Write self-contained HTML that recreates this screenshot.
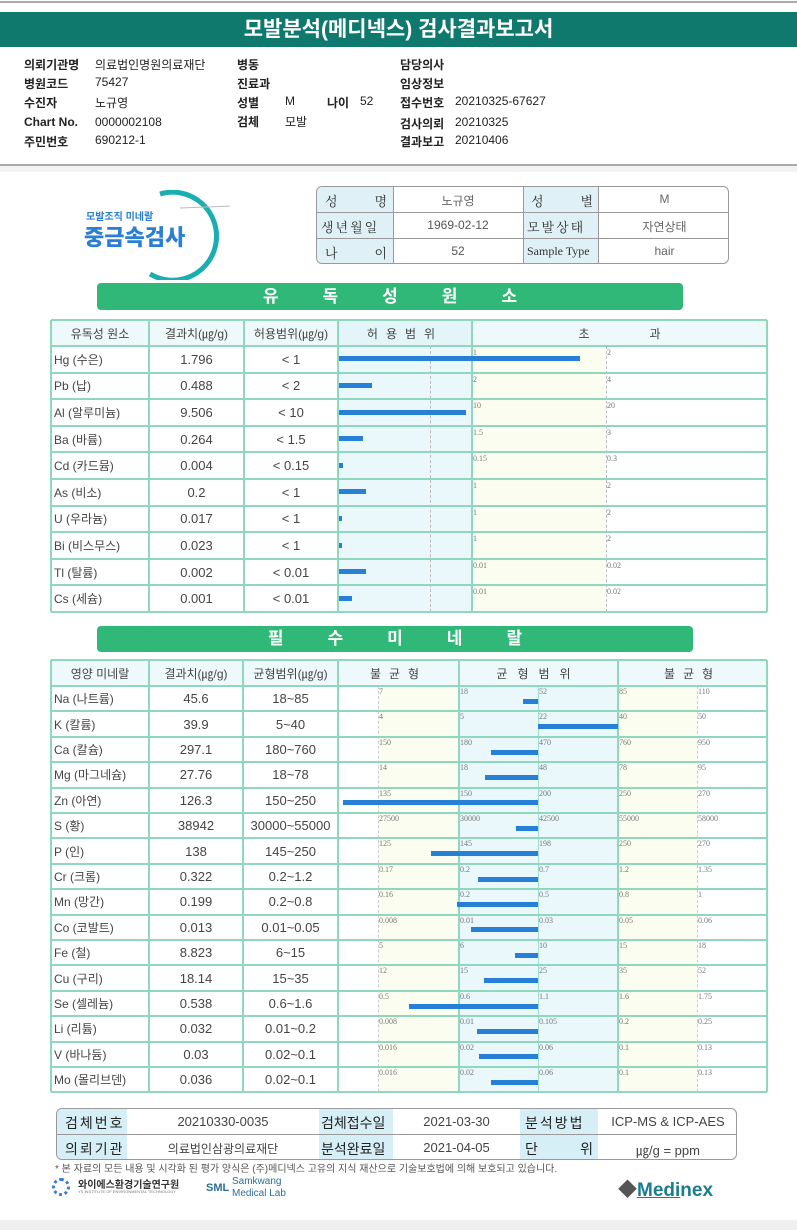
<!DOCTYPE html>
<html><head><meta charset="utf-8">
<style>
*{box-sizing:border-box;margin:0;padding:0}
body{width:797px;height:1230px;position:relative;background:#fff;font-family:"Liberation Sans","Noto Sans CJK KR",sans-serif;color:#333;overflow:hidden}
.a{position:absolute;white-space:nowrap}
.b{font-weight:bold;color:#111}
.i{font-size:12px;color:#222}
.cell{position:absolute;display:flex;align-items:center;justify-content:center;font-size:13px;color:#444;white-space:nowrap}
.tk{position:absolute;font-family:"Liberation Serif",serif;font-size:8px;color:#777}
</style></head><body>
<div class="a" style="left:0;top:1px;width:797px;height:2px;background:#aaa"></div>
<div class="a" style="left:0;top:12px;width:797px;height:35px;background:#10796d;color:#fff;font-size:21px;text-align:center;line-height:35px;font-weight:bold">모발분석(메디넥스) 검사결과보고서</div>

<div>
<div class="a b i" style="left:24px;top:56px">의뢰기관명</div><div class="a i" style="left:95px;top:56px">의료법인명원의료재단</div>
<div class="a b i" style="left:24px;top:75px">병원코드</div><div class="a i" style="left:95px;top:75px">75427</div>
<div class="a b i" style="left:24px;top:94px">수진자</div><div class="a i" style="left:95px;top:94px">노규영</div>
<div class="a b i" style="left:24px;top:115px">Chart No.</div><div class="a i" style="left:95px;top:115px">0000002108</div>
<div class="a b i" style="left:24px;top:133px">주민번호</div><div class="a i" style="left:95px;top:133px">690212-1</div>
<div class="a b i" style="left:237px;top:56px">병동</div>
<div class="a b i" style="left:237px;top:75px">진료과</div>
<div class="a b i" style="left:237px;top:94px">성별</div><div class="a i" style="left:285px;top:94px">M</div>
<div class="a b i" style="left:327px;top:94px">나이</div><div class="a i" style="left:360px;top:94px">52</div>
<div class="a b i" style="left:237px;top:113px">검체</div><div class="a i" style="left:285px;top:113px">모발</div>
<div class="a b i" style="left:400px;top:56px">담당의사</div>
<div class="a b i" style="left:400px;top:75px">임상정보</div>
<div class="a b i" style="left:400px;top:94px">접수번호</div><div class="a i" style="left:455px;top:94px">20210325-67627</div>
<div class="a b i" style="left:400px;top:115px">검사의뢰</div><div class="a i" style="left:455px;top:115px">20210325</div>
<div class="a b i" style="left:400px;top:133px">결과보고</div><div class="a i" style="left:455px;top:133px">20210406</div>
</div>
<div class="a" style="left:0;top:164px;width:797px;height:2px;background:#aaa"></div>
<div class="a" style="left:0;top:166px;width:797px;height:6px;background:#f2f2f2"></div>

<div class="a" style="left:80px;top:190px;width:150px;height:90px">
<svg width="150" height="90" style="position:absolute;left:0;top:0"><path d="M80 4 A44 44 0 1 1 70 84" fill="none" stroke="#1aaeb0" stroke-width="5"/><path d="M100 18 L180 15" stroke="#bbb" stroke-width="1"/></svg>
<div class="a" style="left:6px;top:18px;font-size:10px;color:#2a7fd4;font-weight:bold">모발조직 미네랄</div>
<div class="a" style="left:4px;top:30px;font-size:22px;color:#2a7fd4;font-weight:900">중금속검사</div>
</div>

<div class="a" style="left:316px;top:186px;width:413px;height:78px;border:1px solid #999;border-radius:6px;overflow:hidden;font-size:13px">
<div class="a" style="left:0;top:0;width:76px;height:78px;background:#dff1f6"></div>
<div class="a" style="left:206px;top:0;width:75px;height:78px;background:#dff1f6"></div>
<div class="a" style="left:0;top:25px;width:413px;height:1px;background:#999"></div>
<div class="a" style="left:0;top:51px;width:413px;height:1px;background:#999"></div>
<div class="a" style="left:76px;top:0;width:1px;height:78px;background:#999"></div>
<div class="a" style="left:206px;top:0;width:1px;height:78px;background:#999"></div>
<div class="a" style="left:281px;top:0;width:1px;height:78px;background:#999"></div>
<div class="a" style="left:8px;top:4px;width:62px;font-family:'Liberation Serif','Noto Serif CJK SC',serif;display:flex;justify-content:space-between"><span>성</span><span>명</span></div>
<div class="a" style="left:4px;top:30px;font-family:'Liberation Serif','Noto Serif CJK SC',serif;letter-spacing:2px">생년월일</div>
<div class="a" style="left:8px;top:56px;width:62px;font-family:'Liberation Serif','Noto Serif CJK SC',serif;display:flex;justify-content:space-between"><span>나</span><span>이</span></div>
<div class="a" style="left:214px;top:4px;width:62px;font-family:'Liberation Serif','Noto Serif CJK SC',serif;display:flex;justify-content:space-between"><span>성</span><span>별</span></div>
<div class="a" style="left:210px;top:30px;font-family:'Liberation Serif','Noto Serif CJK SC',serif;letter-spacing:2px">모발상태</div>
<div class="a" style="left:210px;top:57px;font-family:'Liberation Serif',serif;font-size:12px">Sample Type</div>
<div class="a" style="left:76px;top:5px;width:130px;text-align:center;font-size:12px;color:#666">노규영</div>
<div class="a" style="left:76px;top:31px;width:130px;text-align:center;font-size:12px;color:#555">1969-02-12</div>
<div class="a" style="left:76px;top:57px;width:130px;text-align:center;font-size:12px;color:#555">52</div>
<div class="a" style="left:282px;top:5px;width:131px;text-align:center;font-size:12px;color:#666">M</div>
<div class="a" style="left:282px;top:31px;width:131px;text-align:center;font-size:12px;color:#666">자연상태</div>
<div class="a" style="left:282px;top:57px;width:131px;text-align:center;font-size:12px;color:#666">hair</div>
</div>

<div class="a" style="left:97px;top:283px;width:586px;height:27px;background:#2fb877;border-radius:4px;color:#fff;font-size:17px;font-weight:bold;text-align:center;line-height:27px;letter-spacing:44px;text-indent:44px">유독성원소</div>
<div id="t1"></div>

<div class="a" style="left:97px;top:626px;width:596px;height:26px;background:#2fb877;border-radius:4px;color:#fff;font-size:17px;font-weight:bold;text-align:center;line-height:26px;letter-spacing:44px;text-indent:44px">필수미네랄</div>
<div id="t2"></div>

<div class="a" style="left:56px;top:1108px;width:681px;height:52px;border:1px solid #999;border-radius:6px;overflow:hidden;font-size:13px;color:#444">
<div class="a" style="left:0;top:0;width:70px;height:52px;background:#d6eff6"></div>
<div class="a" style="left:262px;top:0;width:74px;height:52px;background:#d6eff6"></div>
<div class="a" style="left:463px;top:0;width:78px;height:52px;background:#d6eff6"></div>
<div class="a" style="left:0;top:25px;width:681px;height:1px;background:#999"></div>
<div class="a" style="left:8px;top:4px;font-size:14px;letter-spacing:2px;color:#222">검체번호</div>
<div class="a" style="left:8px;top:30px;font-size:14px;letter-spacing:2px;color:#222">의뢰기관</div>
<div class="a" style="left:70px;top:5px;width:192px;text-align:center">20210330-0035</div>
<div class="a" style="left:70px;top:31px;width:192px;text-align:center;font-size:12px">의료법인삼광의료재단</div>
<div class="a" style="left:264px;top:4px;font-size:14px;color:#222">검체접수일</div>
<div class="a" style="left:264px;top:30px;font-size:14px;color:#222">분석완료일</div>
<div class="a" style="left:336px;top:5px;width:127px;text-align:center">2021-03-30</div>
<div class="a" style="left:336px;top:31px;width:127px;text-align:center">2021-04-05</div>
<div class="a" style="left:468px;top:4px;font-size:14px;letter-spacing:2px;color:#222">분석방법</div>
<div class="a" style="left:468px;top:30px;width:68px;font-size:14px;color:#222;display:flex;justify-content:space-between"><span>단</span><span>위</span></div>
<div class="a" style="left:541px;top:5px;width:140px;text-align:center">ICP-MS &amp; ICP-AES</div>
<div class="a" style="left:541px;top:31px;width:140px;text-align:center">㎍/g = ppm</div>
</div>
<div class="a" style="left:55px;top:1160px;font-size:10px;color:#555">* 본 자료의 모든 내용 및 시각화 된 평가 양식은 (주)메디넥스 고유의 지식 재산으로 기술보호법에 의해 보호되고 있습니다.</div>
<div class="a" style="left:52px;top:1176px">
<div class="a" style="left:0;top:2px;width:18px;height:18px;border-radius:50%;border:3px dotted #3a7bd5"></div>
<div class="a" style="left:26px;top:0;font-size:10px;font-weight:bold;color:#333">와이에스환경기술연구원</div>
<div class="a" style="left:26px;top:13px;font-size:4px;color:#777">YS INSTITUTE OF ENVIRONMENTAL TECHNOLOGY</div></div>
<div class="a" style="left:206px;top:1176px">
<div class="a" style="left:0;top:6px;font-size:11px;font-weight:bold;color:#2a6f9b">SML</div>
<div class="a" style="left:26px;top:0;font-size:10px;color:#2a6f9b;line-height:12px">Samkwang<br>Medical Lab</div></div>
<div class="a" style="left:618px;top:1175px;font-size:19px;font-weight:bold;color:#1b7d8c"><span style="color:#555">◆</span><span style="text-decoration:underline">Medi</span>nex</div>
<div class="a" style="left:0;top:1220px;width:797px;height:10px;background:#efefef"></div>

<script>
// ---- toxic elements data ----
const toxNames=["Hg (수은)","Pb (납)","Al (알루미늄)","Ba (바륨)","Cd (카드뮴)","As (비소)","U (우라늄)","Bi (비스무스)","Tl (탈륨)","Cs (세슘)"];
const toxValues=[1.796,0.488,9.506,0.264,0.004,0.2,0.017,0.023,0.002,0.001];
const toxLabels=["1.796","0.488","9.506","0.264","0.004","0.2","0.017","0.023","0.002","0.001"];
const toxLimits=[1,2,10,1.5,0.15,1,1,1,0.01,0.01];
const toxRangeText=["< 1","< 2","< 10","< 1.5","< 0.15","< 1","< 1","< 1","< 0.01","< 0.01"];
const toxTick1=["1","2","10","1.5","0.15","1","1","1","0.01","0.01"];
const toxTick2=["2","4","20","3","0.3","2","2","2","0.02","0.02"];
// ---- mineral data ----
const minNames=["Na (나트륨)","K (칼륨)","Ca (칼슘)","Mg (마그네슘)","Zn (아연)","S (황)","P (인)","Cr (크롬)","Mn (망간)","Co (코발트)","Fe (철)","Cu (구리)","Se (셀레늄)","Li (리튬)","V (바나듐)","Mo (몰리브덴)"];
const minValues=[45.6,39.9,297.1,27.76,126.3,38942,138,0.322,0.199,0.013,8.823,18.14,0.538,0.032,0.03,0.036];
const minLabels=["45.6","39.9","297.1","27.76","126.3","38942","138","0.322","0.199","0.013","8.823","18.14","0.538","0.032","0.03","0.036"];
const minRangeText=["18~85","5~40","180~760","18~78","150~250","30000~55000","145~250","0.2~1.2","0.2~0.8","0.01~0.05","6~15","15~35","0.6~1.6","0.01~0.2","0.02~0.1","0.02~0.1"];
const minTicks=[[7,18,52,85,110],[4,5,22,40,50],[150,180,470,760,950],[14,18,48,78,95],[135,150,200,250,270],[27500,30000,42500,55000,58000],[125,145,198,250,270],[0.17,0.2,0.7,1.2,1.35],[0.16,0.2,0.5,0.8,1],[0.008,0.01,0.03,0.05,0.06],[5,6,10,15,18],[12,15,25,35,52],[0.5,0.6,1.1,1.6,1.75],[0.008,0.01,0.105,0.2,0.25],[0.016,0.02,0.06,0.1,0.13],[0.016,0.02,0.06,0.1,0.13]];

function el(parent,cls,style,text,name){const d=document.createElement('div');d.className=cls;d.style.cssText=style;if(text!==undefined)d.textContent=text;


parent.appendChild(d);return d;}
const LINE='#8fd7bd';

// toxic table
(function(){
const t=document.getElementById('t1');
const L=51,T=320,H0=26,RH=26.6,cols=[51,149,244,338,472,606,767];
const R=cols[6];const n=toxNames.length;const B=T+H0+RH*n;
el(t,'a',`left:338px;top:${T}px;width:134px;height:${B-T}px;background:#eaf8fb`,undefined,'allowed-zone');
el(t,'a',`left:472px;top:${T+H0}px;width:134px;height:${B-T-H0}px;background:#fcfdf1`,undefined,'excess-zone');
el(t,'a',`left:${L}px;top:${T}px;width:${R-L}px;height:${H0}px;background:#eef9fb`,undefined,'header-row-bg');
el(t,'a',`left:338px;top:${T}px;width:134px;height:${H0}px;background:#e3f5f8`,undefined,'header-allowed-bg');
el(t,'a',`left:430px;top:${T+H0}px;width:0;height:${B-T-H0}px;border-left:1px dashed #bbb`,undefined,'allowed-mid-line');
el(t,'a',`left:606px;top:${T+H0}px;width:0;height:${B-T-H0}px;border-left:1px dashed #bbb`,undefined,'double-limit-line');
for(let i=0;i<=n;i++){el(t,'a',`left:${L}px;top:${T+H0+RH*i-1}px;width:${R-L}px;height:2px;background:${LINE}`,undefined,'row-line');}
el(t,'a',`left:${L}px;top:${T-1}px;width:${R-L}px;height:2px;background:${LINE}`,undefined,'top-line');
[51,149,244,338,472,767].forEach(x=>el(t,'a',`left:${x-1}px;top:${T}px;width:2px;height:${B-T}px;background:${LINE}`,undefined,'col-line'));
const hd=["유독성 원소","결과치(㎍/g)","허용범위(㎍/g)"];
hd.forEach((h,k)=>el(t,'cell',`left:${cols[k]}px;top:${T}px;width:${cols[k+1]-cols[k]}px;height:${H0}px;font-size:12px`,h,'column-header'));
el(t,'cell',`left:338px;top:${T}px;width:134px;height:${H0}px;font-size:12px;letter-spacing:8px`,"허용범위",'column-header');
el(t,'cell',`left:472px;top:${T}px;width:295px;height:${H0}px;font-size:12px;letter-spacing:60px;text-indent:60px`,"초과",'column-header');
const x=(v,lim)=>338+(v/lim)*134;
for(let i=0;i<n;i++){const y=T+H0+RH*i;
el(t,'cell',`left:54px;top:${y}px;width:95px;height:${RH}px;justify-content:flex-start;font-size:12px`,toxNames[i],'element-name');
el(t,'cell',`left:149px;top:${y}px;width:95px;height:${RH}px`,toxLabels[i],'result-value');
el(t,'cell',`left:244px;top:${y}px;width:94px;height:${RH}px`,toxRangeText[i],'allowed-range');
el(t,'tk',`left:473px;top:${y+2}px`,toxTick1[i],'tick-label');
el(t,'tk',`left:607px;top:${y+2}px`,toxTick2[i],'tick-label');
const w=Math.max(3,x(toxValues[i],toxLimits[i])-338);
el(t,'a',`left:339px;top:${y+RH/2-3}px;width:${w}px;height:5px;background:#2680d8`,undefined,'result-bar');}
})();

// mineral table
(function(){
const t=document.getElementById('t2');
const L=51,T=660,H0=26,RH=25.4,R=767;const n=minNames.length;const B=T+H0+RH*n;
const tx=[378,459,538,618,697];
el(t,'a',`left:${L}px;top:${T}px;width:${R-L}px;height:${H0}px;background:#eef9fb`,undefined,'header-row-bg');
el(t,'a',`left:378px;top:${T+H0}px;width:81px;height:${B-T-H0}px;background:#fcfdf1`,undefined,'low-zone');
el(t,'a',`left:459px;top:${T+H0}px;width:159px;height:${B-T-H0}px;background:#eaf8fb`,undefined,'balance-zone');
el(t,'a',`left:618px;top:${T+H0}px;width:79px;height:${B-T-H0}px;background:#fcfdf1`,undefined,'high-zone');
[378,697].forEach(xx=>el(t,'a',`left:${xx}px;top:${T+H0}px;width:0;height:${B-T-H0}px;border-left:1px dashed #ccc`,undefined,'outer-tick-line'));
el(t,'a',`left:538px;top:${T+H0}px;width:1px;height:${B-T-H0}px;background:#9fded0`,undefined,'center-line');
for(let i=0;i<=n;i++){el(t,'a',`left:${L}px;top:${T+H0+RH*i-1}px;width:${R-L}px;height:2px;background:${LINE}`,undefined,'row-line');}
el(t,'a',`left:${L}px;top:${T-1}px;width:${R-L}px;height:2px;background:${LINE}`,undefined,'top-line');
[51,149,243,338,459,618,767].forEach(xx=>el(t,'a',`left:${xx-1}px;top:${T}px;width:2px;height:${B-T}px;background:${LINE}`,undefined,'col-line'));
const hd=["영양 미네랄","결과치(㎍/g)","균형범위(㎍/g)"];const hc=[51,149,243,338];
hd.forEach((h,k)=>el(t,'cell',`left:${hc[k]}px;top:${T}px;width:${hc[k+1]-hc[k]}px;height:${H0}px;font-size:12px`,h,'column-header'));
el(t,'cell',`left:338px;top:${T}px;width:121px;height:${H0}px;font-size:12px;letter-spacing:8px`,"불균형",'column-header');
el(t,'cell',`left:459px;top:${T}px;width:159px;height:${H0}px;font-size:12px;letter-spacing:10px`,"균형범위",'column-header');
el(t,'cell',`left:618px;top:${T}px;width:149px;height:${H0}px;font-size:12px;letter-spacing:8px`,"불균형",'column-header');
function xs(v,tk){ // piecewise-linear axis
 let j=0;if(v<=tk[1])j=0;else if(v<=tk[2])j=1;else if(v<=tk[3])j=2;else j=3;
 let p=tx[j]+(v-tk[j])/(tk[j+1]-tk[j])*(tx[j+1]-tx[j]);return Math.max(343,Math.min(762,p));}
for(let i=0;i<n;i++){const y=T+H0+RH*i;
el(t,'cell',`left:54px;top:${y}px;width:95px;height:${RH}px;justify-content:flex-start;font-size:12px`,minNames[i],'element-name');
el(t,'cell',`left:149px;top:${y}px;width:94px;height:${RH}px`,minLabels[i],'result-value');
el(t,'cell',`left:243px;top:${y}px;width:95px;height:${RH}px`,minRangeText[i],'balance-range');
minTicks[i].forEach((v,k)=>el(t,'tk',`left:${tx[k]+1}px;top:${y+1}px`,String(v),'tick-label'));
const p=xs(minValues[i],minTicks[i]);const a=Math.min(p,538),b=Math.max(p,538);
el(t,'a',`left:${a}px;top:${y+RH/2}px;width:${Math.max(2,b-a)}px;height:5px;background:#2680d8`,undefined,'result-bar');}
})();
</script>
</body></html>
